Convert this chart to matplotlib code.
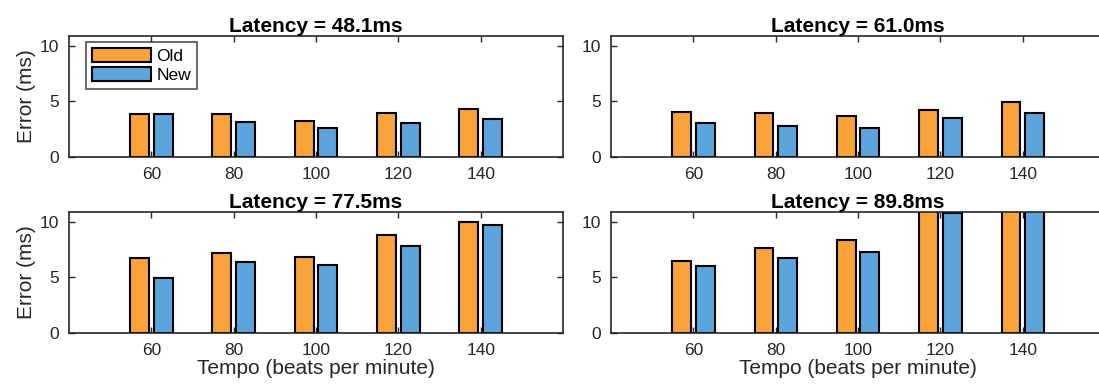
#!/usr/bin/env python3

import numpy as np
import matplotlib
matplotlib.use('Agg')
import matplotlib.pyplot as plt
from matplotlib.patches import Patch

tempos = [60, 80, 100, 120, 140]
latencies = ['48.1', '61.0', '77.5', '89.8']
series = ['Old', 'New']

# error (ms) per tempo, one list per latency
old_err = [
	[3.88, 3.88, 3.26, 3.97, 4.29],
	[4.07, 3.92, 3.70, 4.25, 4.98],
	[6.74, 7.22, 6.83, 8.85, 9.95],
	[6.50, 7.60, 8.37, 12.8, 14.1],
]
new_err = [
	[3.88, 3.17, 2.65, 3.03, 3.46],
	[3.10, 2.78, 2.59, 3.49, 3.95],
	[4.98, 6.36, 6.16, 7.85, 9.70],
	[6.04, 6.74, 7.31, 10.8, 13.2],
]

ORANGE = '#F9A33A'
BLUE = '#5CA4DC'
DARK = '#262626'

def style_axes(ax):
	"""
	MATLAB-like box axes with inward ticks on all sides
	"""
	ax.set_xlim(40, 160)
	ax.set_ylim(0, 10.9)
	ax.set_xticks(tempos)
	ax.set_yticks([0, 5, 10])
	ax.tick_params(direction='in', top=True, right=True, length=4,
				   width=1, colors=DARK, labelsize=12.5, pad=7)
	for sp in ax.spines.values():
		sp.set_color(DARK)
		sp.set_linewidth(1.2)

def draw_bars(ax, old, new):
	x = np.array(tempos, dtype=float)
	w = 4.6
	ax.bar(x - 2.85, old, width=w, color=ORANGE, edgecolor='black', linewidth=1.5, zorder=2)
	ax.bar(x + 2.85, new, width=w, color=BLUE, edgecolor='black', linewidth=1.5, zorder=2)

plt.rcParams['font.family'] = ['Liberation Sans', 'DejaVu Sans']
fig = plt.figure(figsize=(10.99, 3.9), dpi=100)

lefts = [0.0628, 0.556]
bottoms = [0.5974, 0.146]
w_ax, h_ax = 0.4495, 0.311

for idx in range(4):
	row, col = divmod(idx, 2)
	ax = fig.add_axes([lefts[col], bottoms[row], w_ax, h_ax])
	draw_bars(ax, old_err[idx], new_err[idx])
	style_axes(ax)
	ax.set_title('Latency = %sms' % latencies[idx], fontsize=15,
				 fontweight='bold', pad=3, color='black')
	if col == 0:
		ax.set_ylabel('Error (ms)', fontsize=15, color=DARK, labelpad=3)
	if row == 1:
		ax.set_xlabel('Tempo (beats per minute)', fontsize=15, color=DARK, labelpad=1)
	if idx == 0:
		handles = [Patch(facecolor=ORANGE, edgecolor='black', linewidth=1.5),
				   Patch(facecolor=BLUE, edgecolor='black', linewidth=1.5)]
		leg = ax.legend(handles, series, loc='upper left', bbox_to_anchor=(0.034, 0.95),
						fontsize=12.5, frameon=True, fancybox=False, handlelength=3.4,
						handleheight=0.85, handletextpad=0.3, labelspacing=0.2,
						borderpad=0.35, borderaxespad=0)
		leg.get_frame().set_edgecolor(DARK)
		leg.get_frame().set_linewidth(1.2)

fig.savefig('out.png', dpi=100)
